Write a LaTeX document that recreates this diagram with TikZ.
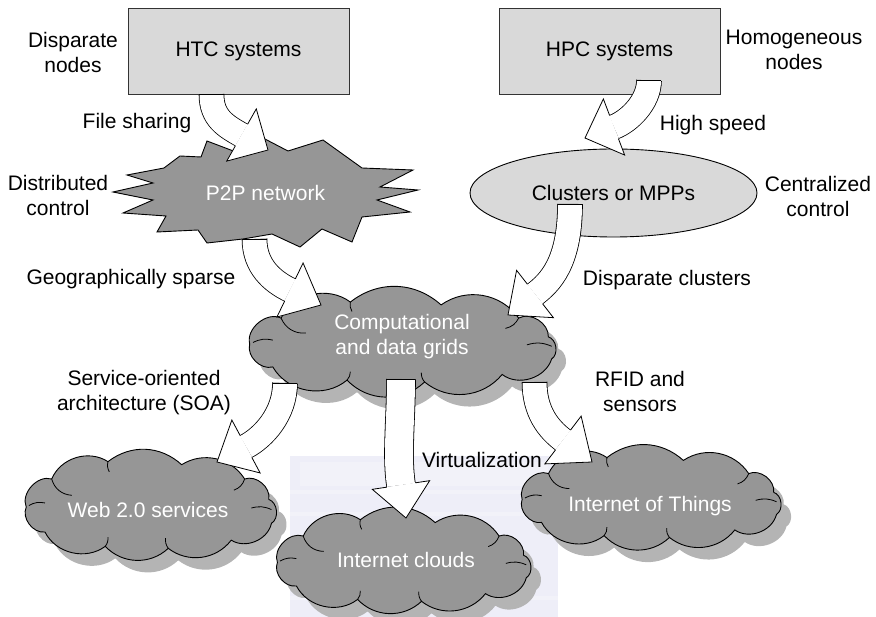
\documentclass[tikz,border=0pt]{standalone}
\usepackage{fontspec}
\setmainfont{Liberation Sans}
\usetikzlibrary{calc}

\definecolor{boxgray}{HTML}{D9D9D9}
\definecolor{cloudgray}{HTML}{969696}
\definecolor{shadowgray}{HTML}{B4B4B4}
\definecolor{paleback}{HTML}{EEEEF8}

% outline of a cloud with centre (#1,#2) and half sizes #3, #4
\newcommand\cloudoutline[4]{%
 ({#1-0.73*#3},{#2-0.52*#4})
 to[bend left=50] ({#1-0.31*#3},{#2-0.86*#4})
 to[bend left=40] ({#1+0.24*#3},{#2-0.80*#4})
 to[bend left=45] ({#1+0.71*#3},{#2-0.52*#4})
 to[bend left=60] ({#1+0.89*#3},{#2-0.12*#4})
 to[bend left=65] ({#1+0.91*#3},{#2+0.35*#4})
 to[bend left=55] ({#1+0.61*#3},{#2+0.68*#4})
 to[bend left=45] ({#1+0.14*#3},{#2+0.84*#4})
 to[bend left=45] ({#1-0.33*#3},{#2+0.80*#4})
 to[bend left=50] ({#1-0.78*#3},{#2+0.52*#4})
 to[bend left=60] ({#1-0.92*#3},{#2+0.03*#4})
 to[bend left=65] ({#1-0.73*#3},{#2-0.52*#4}) -- cycle}

% the small inner arcs of a cloud
\newcommand\cloudinner[4]{%
 \draw[line width=0.8pt]
  ({#1-0.73*#3},{#2-0.52*#4}) to[bend right=35] ({#1-0.58*#3},{#2-0.20*#4})
  ({#1-0.31*#3},{#2-0.86*#4}) to[bend right=20] ({#1-0.30*#3},{#2-0.66*#4})
  ({#1+0.71*#3},{#2-0.52*#4}) to[bend left=25] ({#1+0.63*#3},{#2-0.30*#4})
  ({#1+0.91*#3},{#2+0.08*#4}) to[bend right=20] ({#1+0.76*#3},{#2+0.05*#4})
  ({#1+0.14*#3},{#2+0.84*#4}) to[bend left=20] ({#1+0.12*#3},{#2+0.64*#4})
  ({#1-0.33*#3},{#2+0.80*#4}) to[bend right=20] ({#1-0.31*#3},{#2+0.62*#4})
  ({#1-0.90*#3},{#2+0.00*#4}) to[bend left=20] ({#1-0.78*#3},{#2-0.05*#4});
}

% a complete cloud: shadow, body, inner arcs
\newcommand\cloudbody[4]{%
 \fill[shadowgray] \cloudoutline{#1+10}{#2+12}{#3}{#4};
 \filldraw[fill=cloudgray, draw=black, line width=0.9pt] \cloudoutline{#1}{#2}{#3}{#4};
 \cloudinner{#1}{#2}{#3}{#4}
}

% block arrow: start, first control, base of head, tip, pull of the second control
\def\shafthalf{12}
\def\headhalf{30}
\newcommand\blockarrow[5]{%
 \draw[line width=0.8pt, double=white, double distance=2*\shafthalf pt]
   (#1) .. controls (#2) and ($(#3)!-#5 pt!(#4)$) .. (#3);
 \draw[line width=0.8pt] ($(#1)!\shafthalf pt+0.4pt!90:(#2)$) -- ($(#1)!\shafthalf pt+0.4pt!-90:(#2)$);
 \fill[white] ($(#3)!\headhalf pt!90:(#4)$) -- (#4) -- ($(#3)!\headhalf pt!-90:(#4)$) -- cycle;
 \draw[line width=0.8pt, line join=miter]
   ($(#3)!\shafthalf pt+0.4pt!90:(#4)$) -- ($(#3)!\headhalf pt!90:(#4)$) -- (#4)
   -- ($(#3)!\headhalf pt!-90:(#4)$) -- ($(#3)!\shafthalf pt+0.4pt!-90:(#4)$);
}

\tikzset{
  every node/.style={font=\fontsize{21}{25}\selectfont, align=center, inner sep=0pt},
  sysbox/.style={draw=black!80, fill=boxgray, line width=0.9pt,
                 minimum width=221pt, minimum height=86pt},
  cloudlabel/.style={text=white},
}

\begin{document}
\begin{tikzpicture}[x=1pt, y=-1pt]
\useasboundingbox (0,0) rectangle (876,617);

% faint backdrop behind the lower middle cloud
\fill[paleback] (290,456) rectangle (558,617);
\fill[white, opacity=0.25] (300,462) rectangle (548,486);
\fill[white, opacity=0.25] (290,490) rectangle (558,494);
\fill[white, opacity=0.25] (290,512) rectangle (558,516);
\fill[white, opacity=0.25] (290,596) rectangle (558,600);

% system boxes
\node[sysbox] (htc) at (238.5,51) {HTC systems};
\node[sysbox] (hpc) at (609.5,51) {HPC systems};

% cluster ellipse
\filldraw[fill=boxgray, draw=black, line width=0.9pt] (613.5,193) ellipse [x radius=143.5, y radius=44];
\node (clu) at (613.5,193) {Clusters or MPPs};

% P2P explosion
\filldraw[fill=cloudgray, draw=black, line width=0.9pt, line join=miter]
  (113,192) -- (153,183) -- (127,175) -- (164,168) -- (180,156) -- (201,157)
  -- (207,141) -- (236,152) -- (263,138) -- (288,151) -- (323,140) -- (362,168)
  -- (413,170) -- (380,187) -- (418,190) -- (377,200) -- (410,212) -- (362,217)
  -- (352,242) -- (322,229) -- (300,247) -- (272,234) -- (243,239) -- (207,243)
  -- (198,230) -- (157,232) -- (166,216) -- (123,213) -- (153,200) -- cycle;
\node[cloudlabel] (p2p) at (265.5,193) {P2P network};

% clouds
\cloudbody{401.5}{342.5}{165}{47}
\node[cloudlabel] (grid) at (402,337) {Computational\\and data grids};
\cloudbody{149.5}{505.5}{134}{51}
\node[cloudlabel] (web) at (148,510) {Web 2.0 services};
\cloudbody{402.5}{561}{136}{48}
\node[cloudlabel] (inet) at (406,560) {Internet clouds};
\cloudbody{650}{498}{139}{47}
\node[cloudlabel] (iot) at (650,506) {Internet of Things};

% block arrows between the stages
\coordinate (a1s) at ($(htc.south)+(-27,0)$);
\coordinate (a1b) at (241.5,135);
\coordinate (a1t) at (268,150);
\blockarrow{a1s}{211.5,118}{a1b}{a1t}{18}

\coordinate (a2s) at ($(hpc.south)+(39.5,-14)$);
\coordinate (a2b) at (614,127);
\coordinate (a2t) at (585,138);
\blockarrow{a2s}{649,102}{a2b}{a2t}{16}

\coordinate (a3s) at (254.5,239);
\coordinate (a3b) at (290,290);
\coordinate (a3t) at (321,305);
\blockarrow{a3s}{254.5,266}{a3b}{a3t}{20}

\coordinate (a4s) at ($(clu.south)+(-43.5,3)$);
\coordinate (a4b) at (535,294);
\coordinate (a4t) at (508,315);
\blockarrow{a4s}{570,264}{a4b}{a4t}{18}

\coordinate (a5s) at (285,383);
\coordinate (a5b) at (246,446.5);
\coordinate (a5t) at (217,462);
\blockarrow{a5s}{285,414}{a5b}{a5t}{20}

\coordinate (a7s) at (534.5,382);
\coordinate (a7b) at (563,440);
\coordinate (a7t) at (592,462);
\blockarrow{a7s}{534.5,412}{a7b}{a7t}{18}

\def\shafthalf{14}
\def\headhalf{29}
\coordinate (a6s) at (401,379);
\coordinate (a6b) at (401,485);
\coordinate (a6t) at (inet.north |- 0,518);
\blockarrow{a6s}{401,420}{a6b}{a6t}{30}

% side labels
\node (ldisp) at (73,52) {Disparate\\nodes};
\node (lhomo) at (794,50) {Homogeneous\\nodes};
\node (lfile) at (137,123) {File sharing};
\node (lhigh) at (713,125) {High speed};
\node (ldist) at (58,195) {Distributed\\control};
\node (lcent) at (818,196) {Centralized\\control};
\node (lgeo) at (131,279) {Geographically sparse};
\node (lclus) at (667,280) {Disparate clusters};
\node (lsoa) at (144,393) {Service-oriented\\architecture (SOA)};
\node (lrfid) at (640,391) {RFID and\\sensors};
\node (lvirt) at (482,460) {Virtualization};
\end{tikzpicture}
\end{document}
